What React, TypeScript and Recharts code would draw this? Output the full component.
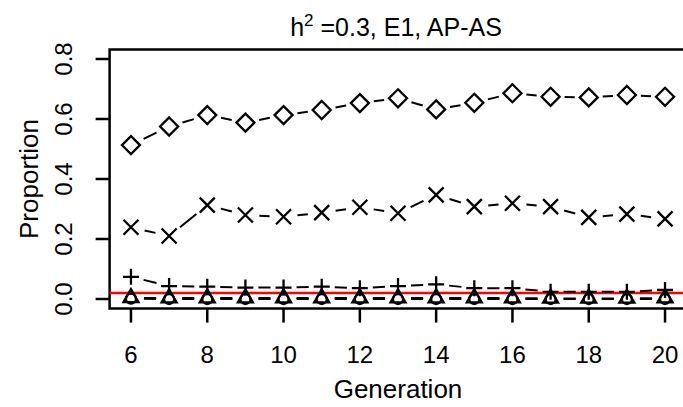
import React from "react";
import {
  ScatterChart,
  Scatter,
  XAxis,
  YAxis,
  ReferenceLine,
  ReferenceArea,
  Label,
} from "recharts";

// values
const generations = [6, 7, 8, 9, 10, 11, 12, 13, 14, 15, 16, 17, 18, 19, 20];
const diamondValues = [0.513, 0.575, 0.613, 0.588, 0.613, 0.63, 0.653, 0.669, 0.632, 0.654, 0.686, 0.674, 0.672, 0.68, 0.674];
const crossValues = [0.239, 0.21, 0.313, 0.28, 0.274, 0.288, 0.306, 0.286, 0.347, 0.308, 0.319, 0.308, 0.272, 0.283, 0.267];
const plusValues = [0.074, 0.043, 0.041, 0.038, 0.038, 0.041, 0.036, 0.043, 0.049, 0.036, 0.036, 0.024, 0.024, 0.024, 0.03];
const triangleValues = [0.004, 0.003, 0.003, 0.003, 0.003, 0.003, 0.003, 0.003, 0.003, 0.003, 0.003, 0.002, 0.002, 0.002, 0.003];
const circleValues = [0.001, 0.0, 0.0, 0.0, 0.0, 0.0, 0.0, 0.0, 0.0, 0.0, 0.0, 0.0, 0.0, 0.0, 0.0];
const thresholdValue = 0.02;

const xTicks = [6, 8, 10, 12, 14, 16, 18, 20];
const yTicks = [0, 0.2, 0.4, 0.6, 0.8];
const xDomain = [5.44, 20.56];
const yDomain = [-0.032, 0.832];

const FONT = "'Liberation Sans', Arial, sans-serif";
const INK = "#000000";
const MARK_W = 2.3;

const toPoints = (vals: number[]) =>
  generations.map((g, i) => ({ gen: g, value: vals[i] }));

// R type="b": segments stop short of each point
const gappedLine = (gap: number) => (props: any) => {
  const pts = props.points || [];
  const segs = [];
  for (let i = 1; i < pts.length; i++) {
    const a = pts[i - 1];
    const b = pts[i];
    const dx = b.x - a.x;
    const dy = b.y - a.y;
    const len = Math.sqrt(dx * dx + dy * dy);
    if (len <= gap * 2) continue;
    const ux = dx / len;
    const uy = dy / len;
    segs.push(
      <line
        key={i}
        x1={a.x + ux * gap}
        y1={a.y + uy * gap}
        x2={b.x - ux * gap}
        y2={b.y - uy * gap}
        stroke={INK}
        strokeWidth={2}
      />
    );
  }
  return <g>{segs}</g>;
};

const Diamond = ({ cx, cy }: any) => (
  <path
    d={`M${cx} ${cy - 9}L${cx + 9} ${cy}L${cx} ${cy + 9}L${cx - 9} ${cy}Z`}
    fill="none"
    stroke={INK}
    strokeWidth={MARK_W}
  />
);

const Cross = ({ cx, cy }: any) => (
  <path
    d={`M${cx - 7.5} ${cy - 7.5}L${cx + 7.5} ${cy + 7.5}M${cx - 7.5} ${cy + 7.5}L${cx + 7.5} ${cy - 7.5}`}
    fill="none"
    stroke={INK}
    strokeWidth={MARK_W}
  />
);

const Plus = ({ cx, cy }: any) => (
  <path
    d={`M${cx - 8} ${cy}L${cx + 8} ${cy}M${cx} ${cy - 8}L${cx} ${cy + 8}`}
    fill="none"
    stroke={INK}
    strokeWidth={MARK_W}
  />
);

const Triangle = ({ cx, cy }: any) => (
  <path
    d={`M${cx} ${cy - 8.7}L${cx + 7.5} ${cy + 4.3}L${cx - 7.5} ${cy + 4.3}Z`}
    fill="none"
    stroke={INK}
    strokeWidth={MARK_W}
  />
);

const Ring = ({ cx, cy }: any) => (
  <circle cx={cx} cy={cy} r={5} fill="none" stroke={INK} strokeWidth={MARK_W} />
);

const XTick = ({ x, y, payload }: any) => (
  <text
    x={x}
    y={y + 30}
    textAnchor="middle"
    dominantBaseline="central"
    fontSize={24}
    fontFamily={FONT}
    fill={INK}
  >
    {payload.value}
  </text>
);

const YTick = ({ x, y, payload }: any) => (
  <text
    x={x - 30}
    y={y}
    transform={`rotate(-90, ${x - 30}, ${y})`}
    textAnchor="middle"
    dominantBaseline="central"
    fontSize={24}
    fontFamily={FONT}
    fill={INK}
  >
    {payload.value.toFixed(1)}
  </text>
);

export default function App() {
  return (
    <div
      style={{
        position: "absolute",
        left: 0,
        top: 0,
        width: 683,
        height: 407,
        overflow: "hidden",
        background: "#fff",
      }}
    >
      <div
        style={{
          position: "absolute",
          left: 0,
          width: 792,
          top: 12,
          textAlign: "center",
          fontFamily: FONT,
          fontSize: 25,
          lineHeight: "30px",
          color: INK,
        }}
      >
        h<sup style={{ fontSize: 17, verticalAlign: "top", lineHeight: "17px" }}>2</sup> =0.3, E1, AP-AS
      </div>
      <ScatterChart
        width={700}
        height={407}
        margin={{ top: 49.4, right: 13.6, bottom: 0, left: 0 }}
      >
        <XAxis
          type="number"
          dataKey="gen"
          domain={xDomain}
          ticks={xTicks}
          allowDataOverflow
          axisLine={false}
          tickLine={{ stroke: INK, strokeWidth: 2.5 }}
          tickSize={14}
          tick={<XTick />}
          height={98.4}
          interval={0}
        >
          <Label
            content={({ viewBox }: any) => (
              <text
                x={viewBox.x + viewBox.width / 2}
                y={viewBox.y + 80}
                textAnchor="middle"
                dominantBaseline="central"
                fontSize={26}
                fontFamily={FONT}
                fill={INK}
              >
                Generation
              </text>
            )}
          />
        </XAxis>
        <YAxis
          type="number"
          dataKey="value"
          domain={yDomain}
          ticks={yTicks}
          allowDataOverflow
          axisLine={false}
          tickLine={{ stroke: INK, strokeWidth: 2.5 }}
          tickSize={14}
          tick={<YTick />}
          width={109.6}
          interval={0}
        >
          <Label
            content={({ viewBox }: any) => {
              const cx = viewBox.x + 29;
              const cy = viewBox.y + viewBox.height / 2;
              return (
                <text
                  x={cx}
                  y={cy}
                  transform={`rotate(-90, ${cx}, ${cy})`}
                  textAnchor="middle"
                  dominantBaseline="central"
                  fontSize={26}
                  fontFamily={FONT}
                  fill={INK}
                >
                  Proportion
                </text>
              );
            }}
          />
        </YAxis>
        <ReferenceArea
          x1={xDomain[0]}
          x2={xDomain[1]}
          y1={yDomain[0]}
          y2={yDomain[1]}
          fill="none"
          fillOpacity={0}
          stroke={INK}
          strokeWidth={2.5}
          ifOverflow="visible"
        />
        <Scatter
          data={toPoints(circleValues)}
          shape={<Ring />}
          line={gappedLine(13)}
          isAnimationActive={false}
        />
        <Scatter
          data={toPoints(triangleValues)}
          shape={<Triangle />}
          line={gappedLine(13)}
          isAnimationActive={false}
        />
        <Scatter
          data={toPoints(plusValues)}
          shape={<Plus />}
          line={gappedLine(13)}
          isAnimationActive={false}
        />
        <Scatter
          data={toPoints(crossValues)}
          shape={<Cross />}
          line={gappedLine(14)}
          isAnimationActive={false}
        />
        <Scatter
          data={toPoints(diamondValues)}
          shape={<Diamond />}
          line={gappedLine(14)}
          isAnimationActive={false}
        />
        <ReferenceLine
          y={thresholdValue}
          stroke="#ff0000"
          strokeWidth={2.5}
          ifOverflow="visible"
        />
      </ScatterChart>
    </div>
  );
}
